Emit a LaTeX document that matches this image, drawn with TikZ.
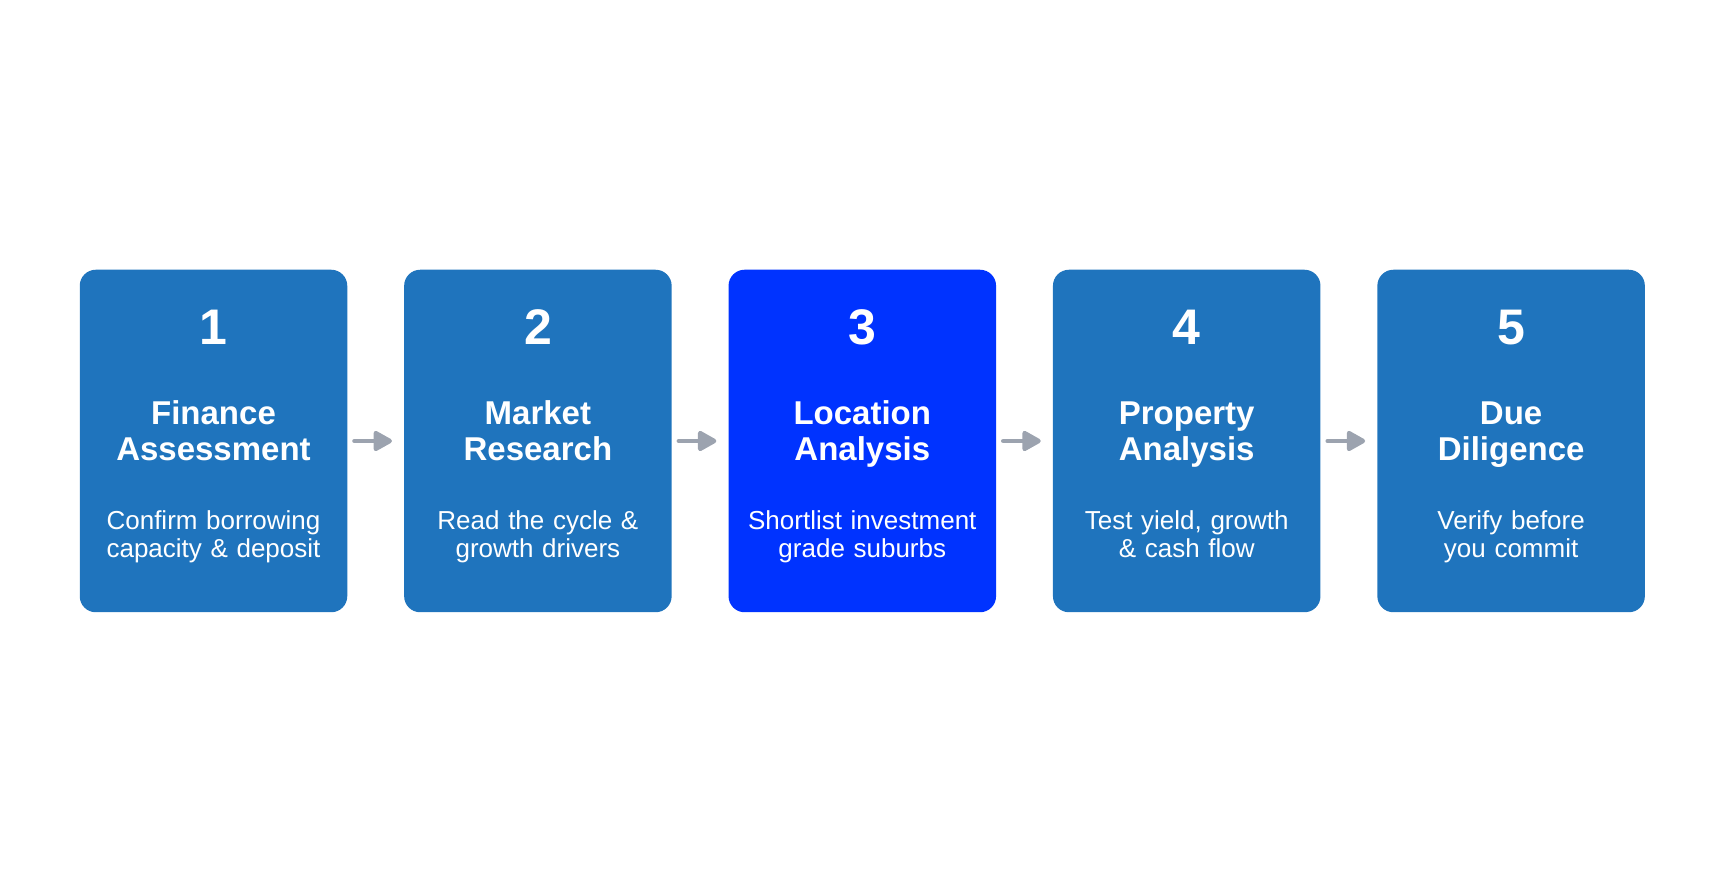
\documentclass[tikz,border=0pt]{standalone}
\usepackage{fontspec}
\setmainfont{Liberation Sans}
\usepackage{tikz}
\usetikzlibrary{positioning, arrows.meta}

\definecolor{stageblue}{HTML}{1F74BD}
\definecolor{focusblue}{HTML}{0033FF}
\definecolor{arrowgray}{HTML}{9CA3AF}

\begin{document}
\begin{tikzpicture}[
    node distance=56.5pt,
    stage/.style={fill=stageblue, rounded corners=16pt, minimum width=267.5pt,
                  minimum height=342.5pt, inner sep=0pt},
    focus/.style={stage, fill=focusblue},
    num/.style={font=\fontsize{50}{50}\selectfont\bfseries, text=white, anchor=base, inner sep=0pt},
    ttl/.style={font=\fontsize{33}{36}\selectfont\bfseries, text=white, anchor=base,
                inner sep=0pt, text width=260pt, align=center},
    desc/.style={font=\fontsize{26}{27.7}\selectfont, text=white, anchor=base,
                 inner sep=0pt, text width=260pt, align=center},
    flow/.style={-{Triangle[length=21pt, width=22pt, round]}, line width=4.5pt,
                 arrowgray, line cap=round, shorten <=7pt, shorten >=12pt},
]
\useasboundingbox (0,0) rectangle (1723pt,883pt);

\node[stage] (s1) at (213.5pt,442pt) {};
\node[stage, right=of s1] (s2) {};
\node[focus, right=of s2] (s3) {};
\node[stage, right=of s3] (s4) {};
\node[stage, right=of s4] (s5) {};

\node[num] (n1) at ([yshift=-75pt]s1.north) {1};
\node[ttl] (t1) at ([yshift=-155pt]s1.north) {Finance\\Assessment};
\node[desc] (d1) at ([yshift=-260pt]s1.north) {Confirm borrowing\\capacity \& deposit};

\node[num] (n2) at ([yshift=-75pt]s2.north) {2};
\node[ttl] (t2) at ([yshift=-155pt]s2.north) {Market\\Research};
\node[desc] (d2) at ([yshift=-260pt]s2.north) {Read the cycle \&\\growth drivers};

\node[num] (n3) at ([yshift=-75pt]s3.north) {3};
\node[ttl] (t3) at ([yshift=-155pt]s3.north) {Location\\Analysis};
\node[desc] (d3) at ([yshift=-260pt]s3.north) {Shortlist investment\\grade suburbs};

\node[num] (n4) at ([yshift=-75pt]s4.north) {4};
\node[ttl] (t4) at ([yshift=-155pt]s4.north) {Property\\Analysis};
\node[desc] (d4) at ([yshift=-260pt]s4.north) {Test yield, growth\\\& cash flow};

\node[num] (n5) at ([yshift=-75pt]s5.north) {5};
\node[ttl] (t5) at ([yshift=-155pt]s5.north) {Due\\Diligence};
\node[desc] (d5) at ([yshift=-260pt]s5.north) {Verify before\\you commit};

\draw[flow] (s1) -- (s2);
\draw[flow] (s2) -- (s3);
\draw[flow] (s3) -- (s4);
\draw[flow] (s4) -- (s5);

\end{tikzpicture}
\end{document}
